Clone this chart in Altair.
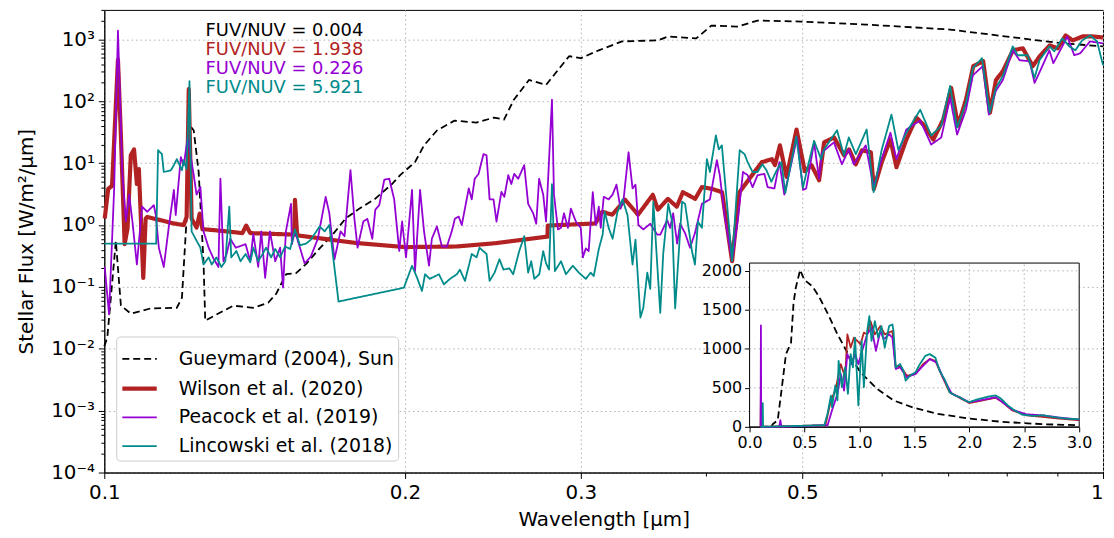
import altair as alt
import pandas as pd

SERIES = ["Gueymard (2004), Sun", "Wilson et al. (2020)", "Peacock et al. (2019)", "Lincowski et al. (2018)"]
COLORS = ["#000000", "#b22222", "#9400d3", "#008b8b"]
DASHES = [[7, 4], [1, 0], [1, 0], [1, 0]]
WIDTHS = [1.8, 4.2, 1.8, 1.8]

# ---------------- main panel data (wavelength in um, flux in W/m2/um) ----------------
gue_lam = [0.1, 0.1007, 0.1027, 0.1039, 0.1063, 0.1113, 0.1182, 0.1196, 0.1209, 0.1219,
           0.1229, 0.1243, 0.1257, 0.1262, 0.1346, 0.141, 0.1459, 0.1486, 0.1521, 0.1556,
           0.1592, 0.1643, 0.1693, 0.1744, 0.18, 0.1867, 0.1941, 0.1978, 0.2047, 0.209,
           0.2153, 0.2243, 0.2358, 0.2456, 0.2513, 0.2571, 0.2662, 0.2769, 0.292, 0.3,
           0.3127, 0.3299, 0.3585, 0.3667, 0.3915, 0.4053, 0.4304, 0.4509, 0.4985, 0.5791,
           0.7024, 0.8603, 0.9132, 1.0]
gue_flux = [0.011, 0.0153, 0.55, 0.05, 0.037, 0.045, 0.046, 0.067, 1.27, 40,
            33.7, 7.2, 0.26, 0.0286, 0.0497, 0.046, 0.0555, 0.077, 0.161, 0.167,
            0.233, 0.42, 0.70, 1.27, 1.84, 2.65, 4.6, 6.4, 10.4, 19.4,
            33.7, 48.8, 45.3, 54.5, 50.6, 106, 221, 184, 535, 497,
            667, 929, 964, 1117, 1038, 1675, 1614, 2014, 1941, 1738,
            1445, 964, 863, 773]

wil_lam = [0.1001, 0.1009, 0.1018, 0.1025, 0.1032, 0.1039, 0.1048, 0.1055, 0.1063, 0.1071,
           0.1078, 0.1083, 0.1094, 0.11, 0.1104, 0.1174, 0.1201, 0.1209, 0.1215, 0.1223,
           0.1237, 0.1246, 0.1254, 0.1326, 0.1375, 0.1387, 0.14, 0.1549, 0.1552, 0.156,
           0.1793, 0.2, 0.2254, 0.2467, 0.2778, 0.278, 0.3102, 0.3152, 0.3225, 0.3323,
           0.3423, 0.3542, 0.3583, 0.3667, 0.3743, 0.3796, 0.3905, 0.3966, 0.406, 0.4155,
           0.4252, 0.4325, 0.4452, 0.4555, 0.4661, 0.4694, 0.4748, 0.4821, 0.4933, 0.5028,
           0.5106, 0.5197, 0.5257, 0.5379, 0.5504, 0.5568, 0.5656, 0.5735, 0.5855, 0.5895,
           0.6004, 0.6125, 0.6211, 0.6355, 0.6503, 0.6608, 0.6761, 0.6918, 0.7047, 0.7158,
           0.7291, 0.7415, 0.7586, 0.7706, 0.7813, 0.7939, 0.8124, 0.8312, 0.8505, 0.8642,
           0.8843, 0.9006, 0.9175, 0.9324, 0.9539, 0.976, 1.0]
wil_flux = [1.27, 3.84, 4.3, 45, 470, 28, 0.49, 0.88, 13.4, 16.7,
            4.6, 8.0, 0.14, 1.27, 1.35, 1.06, 1.0, 1.35, 158, 1.27,
            0.91, 1.53, 0.86, 0.79, 0.74, 0.98, 0.74, 0.70, 2.56, 0.68,
            0.51, 0.44, 0.45, 0.51, 0.65, 0.98, 1.06, 1.64, 1.47, 2.56,
            1.47, 3.08, 1.77, 2.65, 1.98, 3.4, 2.65, 4.1, 3.84, 3.4,
            0.26, 3.4, 6.4, 10.4, 11.6, 9.3, 19.4, 6.0, 35, 7.4,
            9.3, 5.3, 21.7, 26, 13.4, 16.7, 9.6, 16.1, 15, 3.8,
            10.4, 24.2, 8.6, 24.2, 54.5, 42, 24, 50.6, 164, 40.5,
            106, 370, 445, 65.5, 221, 308, 667, 718, 370, 535,
            802, 718, 1159, 964, 1117, 1117, 1076]

pea_lam = [0.1001, 0.1011, 0.1023, 0.1032, 0.1042, 0.1051, 0.1059, 0.1067, 0.1078, 0.1091,
           0.1104, 0.1121, 0.1126, 0.1134, 0.1147, 0.116, 0.1174, 0.1179, 0.1193, 0.1201,
           0.1212, 0.1229, 0.1237, 0.1248, 0.1257, 0.1272, 0.1286, 0.1301, 0.1307, 0.1316,
           0.1325, 0.1337, 0.1354, 0.1385, 0.14, 0.141, 0.1426, 0.1436, 0.1449, 0.1465,
           0.1483, 0.15, 0.151, 0.152, 0.1538, 0.1541, 0.1552, 0.157, 0.1587, 0.161,
           0.1636, 0.1666, 0.168, 0.17, 0.1724, 0.174, 0.1764, 0.178, 0.1793, 0.1817,
           0.1834, 0.1855, 0.1868, 0.1885, 0.1907, 0.1929, 0.1951, 0.1974, 0.1987, 0.2005,
           0.2033, 0.2047, 0.2071, 0.209, 0.2114, 0.2128, 0.2153, 0.2178, 0.2203, 0.2228,
           0.2244, 0.2264, 0.228, 0.2317, 0.2333, 0.2349, 0.237, 0.2397, 0.2414, 0.2431,
           0.2453, 0.247, 0.2498, 0.2515, 0.2538, 0.2556, 0.2573, 0.2597, 0.2633, 0.2657,
           0.2688, 0.2707, 0.2725, 0.2751, 0.2769, 0.2807, 0.282, 0.2846, 0.2866, 0.2886,
           0.2912, 0.2932, 0.2966, 0.3, 0.3014, 0.3035, 0.3055, 0.3084, 0.3105, 0.3127,
           0.3141, 0.3163, 0.3199, 0.3228, 0.3257, 0.3288, 0.3311, 0.3349, 0.338, 0.3403,
           0.3426, 0.3465, 0.3521, 0.3578, 0.3603, 0.3661, 0.3686, 0.3712, 0.3746, 0.3772,
           0.3815, 0.3859, 0.3903, 0.3966, 0.404, 0.4105, 0.4133, 0.4181, 0.4252, 0.431,
           0.436, 0.4407, 0.4458, 0.4509, 0.4581, 0.4615, 0.4688, 0.4742, 0.4796, 0.494,
           0.5007, 0.5044, 0.5137, 0.5196, 0.5232, 0.5377, 0.5477, 0.5565, 0.5629, 0.5786,
           0.5893, 0.6002, 0.6126, 0.6211, 0.6354, 0.6561, 0.6729, 0.6887, 0.7029, 0.7143,
           0.7291, 0.7409, 0.7581, 0.7686, 0.781, 0.7937, 0.8121, 0.8252, 0.8443, 0.854,
           0.8658, 0.8837, 0.8918, 0.9104, 0.9209, 0.9358, 0.9487, 0.9705, 1.0]
pea_flux = [0.21, 0.036, 3.9, 1390, 8.0, 1.14, 3.1, 1.14, 0.23, 1.98,
            1.64, 2.1, 1.45, 0.43, 0.21, 0.9, 3.7, 1.45, 12.5, 9.3,
            26, 6.4, 3.1, 4.1, 0.79, 0.43, 0.29, 0.21, 5.6, 0.26,
            0.33, 0.6, 0.43, 0.49, 0.26, 0.72, 0.21, 0.79, 0.14, 0.79,
            0.26, 0.43, 0.097, 0.79, 2.2, 0.49, 0.79, 0.43, 0.24, 0.31,
            0.6, 2.86, 1.55, 0.28, 0.79, 0.66, 7.7, 1.26, 0.43, 1.14,
            1.26, 0.6, 1.77, 2.1, 5.4, 5.6, 2.6, 0.38, 1.14, 0.3,
            3.7, 0.18, 3.7, 0.79, 0.22, 0.6, 0.95, 0.45, 0.45, 0.79,
            1.26, 1.37, 1.0, 3.9, 2.6, 5.6, 6.7, 14, 13.4, 2.6,
            2.6, 1.14, 3.44, 2.86, 6.4, 4.6, 6.7, 5.6, 9.3, 2.2,
            1.55, 1.05, 5.6, 3.1, 1.14, 106, 3.1, 0.85, 0.9, 1.55,
            0.9, 1.84, 1.14, 0.9, 0.3, 0.42, 0.38, 3.4, 1.0, 1.98,
            0.9, 2.86, 2.6, 3.1, 4.5, 1.84, 2.6, 15, 3.9, 4.5,
            1.0, 0.85, 1.05, 0.7, 0.7, 1.2, 0.9, 1.55, 0.5, 1.05,
            0.74, 0.43, 0.74, 2.2, 2.6, 11.2, 6.4, 1.37, 0.26, 1.26,
            7.2, 6.4, 4.1, 6.4, 6.7, 4.1, 3.9, 10.4, 3.1, 26,
            3.7, 3.9, 21.7, 5.6, 15, 21.7, 9.6, 16.7, 9.6, 19.4,
            4.1, 11.6, 31, 11.6, 35, 49, 20, 26, 114, 29,
            73, 265, 370, 61, 147, 220, 667, 460, 445, 198,
            319, 667, 413, 773, 1117, 555, 597, 929, 863]

lin_lam = [0.1, 0.1127, 0.1132, 0.1142, 0.1147, 0.1166, 0.1174, 0.1182, 0.1196, 0.1201,
           0.1209, 0.1217, 0.1223, 0.1234, 0.1248, 0.1257, 0.1272, 0.1281, 0.1295, 0.131,
           0.1322, 0.1334, 0.134, 0.1356, 0.1369, 0.1385, 0.14, 0.141, 0.1426, 0.1442,
           0.1452, 0.1469, 0.1483, 0.15, 0.1517, 0.1535, 0.1552, 0.157, 0.1592, 0.161,
           0.1643, 0.1662, 0.168, 0.1716, 0.1995, 0.2033, 0.2057, 0.208, 0.2095, 0.2118,
           0.2163, 0.2188, 0.2219, 0.2254, 0.227, 0.2297, 0.2333, 0.2359, 0.2375, 0.2414,
           0.2431, 0.2459, 0.2487, 0.251, 0.2544, 0.2567, 0.2603, 0.2633, 0.2657, 0.2676,
           0.2695, 0.2726, 0.2751, 0.2769, 0.2788, 0.2807, 0.2826, 0.2866, 0.2899, 0.2945,
           0.2986, 0.3035, 0.3069, 0.3091, 0.3127, 0.3155, 0.317, 0.3199, 0.3228, 0.3265,
           0.3303, 0.3341, 0.338, 0.3403, 0.3442, 0.3465, 0.3497, 0.3521, 0.3546, 0.3603,
           0.3628, 0.367, 0.3703, 0.3729, 0.3789, 0.3815, 0.3876, 0.3903, 0.393, 0.3966,
           0.4012, 0.404, 0.4096, 0.4124, 0.4153, 0.4181, 0.4252, 0.4327, 0.4376, 0.4407,
           0.4458, 0.4509, 0.456, 0.4602, 0.4655, 0.4709, 0.4764, 0.4807, 0.493, 0.5007,
           0.5067, 0.5137, 0.522, 0.5256, 0.5416, 0.5502, 0.5565, 0.5656, 0.5799, 0.5893,
           0.6002, 0.614, 0.6239, 0.6354, 0.6561, 0.6729, 0.6887, 0.7029, 0.7143, 0.7291,
           0.7409, 0.7565, 0.7702, 0.781, 0.7937, 0.8121, 0.8214, 0.8405, 0.854, 0.8638,
           0.8837, 0.8938, 0.9104, 0.9251, 0.9381, 0.953, 0.9707, 0.9863, 1.0]
lin_flux = [0.5, 0.5, 16.2, 14.0, 7.2, 7.7, 9.3, 11.6, 7.7, 11.2,
            8.0, 212, 0.79, 0.6, 0.43, 0.23, 0.3, 0.23, 0.3, 0.21,
            0.26, 1.98, 0.3, 0.38, 0.26, 0.34, 0.25, 0.43, 0.26, 0.35,
            0.43, 0.3, 0.41, 0.3, 0.45, 0.41, 0.85, 0.47, 0.5, 0.58,
            0.95, 0.79, 1.0, 0.058, 0.097, 0.22, 0.14, 0.086, 0.16, 0.135,
            0.16, 0.11, 0.135, 0.16, 0.19, 0.125, 0.34, 0.3, 0.43, 0.34,
            0.125, 0.17, 0.28, 0.19, 0.2, 0.16, 0.38, 0.66, 0.17, 0.26,
            0.135, 0.16, 0.38, 0.24, 0.19, 4.6, 0.18, 0.26, 0.16, 0.22,
            0.17, 0.135, 0.17, 0.15, 0.41, 0.7, 1.64, 0.9, 0.6, 1.64,
            2.6, 1.45, 0.23, 0.58, 0.032, 0.046, 0.17, 0.093, 2.38, 0.038,
            0.35, 2.2, 1.14, 0.045, 2.38, 2.2, 0.38, 0.23, 1.14, 0.9,
            11.6, 7.2, 28, 16.7, 19.4, 5.6, 0.26, 16.2, 14, 10.4,
            7.2, 7.2, 9.6, 7.7, 5.0, 7.5, 10.4, 3.3, 27, 4.0,
            9.3, 23, 11.6, 16.7, 34, 13.4, 26, 14, 35, 3.4,
            16.2, 61, 16.2, 31, 73, 28, 40.5, 177, 37.7, 95,
            344, 497, 65.5, 164, 256, 773, 555, 555, 238, 460,
            773, 643, 1038, 773, 667, 964, 1159, 929, 384]

# ---------------- inset data (linear axes, 0-3 um) ----------------
ins_gue_lam = [0.1, 0.2, 0.21, 0.256, 0.292, 0.331, 0.377, 0.40, 0.42, 0.46, 0.497, 0.572, 0.63,
               0.708, 0.80, 0.89, 1.01, 1.16, 1.31, 1.49, 1.70, 2.0, 2.3, 2.67, 3.0]
ins_gue_flux = [0, 5, 34, 85, 487, 932, 1080, 1589, 1780, 2013, 1886, 1800, 1674,
                1462, 1186, 953, 699, 487, 339, 246, 170, 106, 64, 34, 21]

ins_wil_lam = [0.1, 0.103, 0.106, 0.69, 0.74, 0.78, 0.83, 0.87, 0.89, 0.92, 0.95, 0.98, 1.01,
               1.04, 1.07, 1.10, 1.14, 1.19, 1.23, 1.30, 1.33, 1.37, 1.43, 1.51, 1.58, 1.64,
               1.69, 1.75, 1.82, 1.91, 2.0, 2.12, 2.24, 2.30, 2.39, 2.52, 2.67, 2.82, 3.0]
ins_wil_flux = [1, 470, 1, 21, 340, 466, 805, 636, 1186, 1017, 1144, 1102, 1059,
                1208, 1186, 1356, 1186, 1292, 1186, 1229, 763, 784, 657, 678, 805, 869,
                847, 657, 445, 373, 305, 339, 373, 318, 212, 148, 127, 106, 85]

ins_pea_lam = [0.1, 0.103, 0.106, 0.27, 0.28, 0.29, 0.71, 0.75, 0.80, 0.83, 0.86, 0.89, 0.93,
               0.96, 0.99, 1.02, 1.07, 1.11, 1.15, 1.19, 1.22, 1.27, 1.30, 1.33, 1.37, 1.43,
               1.51, 1.58, 1.64, 1.70, 1.76, 1.84, 1.91, 2.0, 2.12, 2.24, 2.30, 2.39, 2.52,
               2.67, 2.82, 3.0]
ins_pea_flux = [0, 1300, 1, 1, 85, 1, 21, 212, 424, 678, 466, 932, 805,
                932, 805, 953, 1186, 1271, 975, 1229, 1123, 1186, 1144, 742, 763, 636,
                678, 784, 869, 826, 636, 424, 381, 314, 347, 381, 318, 220, 161,
                148, 119, 93]

ins_lin_lam = [0.1, 0.118, 0.12, 0.123, 0.68, 0.71, 0.74, 0.75, 0.78, 0.80, 0.81, 0.84, 0.87,
               0.895, 0.92, 0.94, 0.96, 0.99, 1.02, 1.04, 1.07, 1.09, 1.11, 1.14, 1.17, 1.20,
               1.23, 1.27, 1.30, 1.31, 1.33, 1.37, 1.40, 1.42, 1.46, 1.51, 1.55, 1.60, 1.64,
               1.69, 1.73, 1.78, 1.82, 1.87, 1.91, 1.96, 2.0, 2.09, 2.18, 2.24, 2.29, 2.35,
               2.41, 2.48, 2.58, 2.67, 2.76, 2.88, 3.0]
ins_lin_flux = [1, 1, 305, 1, 21, 170, 400, 254, 530, 340, 847, 508, 763,
                424, 932, 763, 1144, 275, 1102, 508, 1229, 1419, 1102, 1356, 1144, 1292,
                1017, 1292, 1313, 1229, 763, 805, 720, 593, 657, 699, 805, 911, 932,
                890, 720, 593, 445, 403, 381, 339, 318, 360, 390, 403, 360, 275,
                212, 157, 140, 148, 127, 106, 97]

# annotation texts
ANN_TEXT = ["FUV/NUV = 0.004", "FUV/NUV = 1.938", "FUV/NUV = 0.226", "FUV/NUV = 5.921"]
ANN_LAM = [0.1263, 0.1263, 0.1263, 0.1263]
ANN_FLUX = [1378, 674, 335, 164]

# tick values
X_TICKS = [0.1, 0.2, 0.3, 0.4, 0.5, 0.6, 0.7, 0.8, 0.9, 1.0]
Y_TICKS = [v for v in (float(f"{m}e{k}") for k in range(-4, 4) for m in range(1, 10)) if v <= 3000]
INSET_XTICKS = [0.0, 0.5, 1.0, 1.5, 2.0, 2.5, 3.0]
INSET_YTICKS = [0, 500, 1000, 1500, 2000]
INSET_XGRID = [0.5, 1.0, 1.5, 2.0, 2.5]
INSET_YGRID = [500, 1000, 1500, 2000]
INSET_XLIM = [0.0, 3.0]
INSET_YLIM = [0.0, 2100.0]

FONT = "DejaVu Sans"

# ---------------- scales & axes ----------------
y_major = "abs(log(datum.value)/LN10 - round(log(datum.value)/LN10)) < 0.001"
x_major = "indexof([0.1, 0.2, 0.3, 0.5, 1], datum.value) >= 0"

xs_main = alt.Scale(type="log", domain=[0.1, 1.0], nice=False)
ys_main = alt.Scale(type="log", domain=[1e-4, 3000], nice=False)

xaxis_main = alt.Axis(
    values=X_TICKS, title="Wavelength [μm]",
    labelExpr="datum.value == 1 ? '1' : (" + x_major + " ? format(datum.value, '.1f') : '')",
    labelAlign={"condition": {"test": "datum.value == 1", "value": "right"}, "value": "center"},
    tickSize={"condition": {"test": x_major, "value": 6}, "value": 3.5},
    gridOpacity={"condition": {"test": x_major, "value": 1}, "value": 0},
    grid=True, labelFlush=False, labelOverlap=False, labelPadding=4, titlePadding=7,
)
yaxis_main = alt.Axis(
    values=Y_TICKS, title="Stellar Flux [W/m²/μm]",
    labelExpr="(" + y_major + ") ? ['10⁻⁴','10⁻³','10⁻²','10⁻¹','10⁰','10¹','10²','10³'][round(log(datum.value)/LN10)+4] : ''",
    tickSize={"condition": {"test": y_major, "value": 6}, "value": 3.5},
    gridOpacity={"condition": {"test": y_major, "value": 1}, "value": 0},
    grid=True, labelFlush=False, labelOverlap=False, labelPadding=4, titlePadding=14,
)

xs_in = alt.Scale(domain=INSET_XLIM, range=[650, 982], nice=False, zero=False)
ys_in = alt.Scale(domain=INSET_YLIM, range=[420, 255], nice=False, zero=False)
xaxis_in = alt.Axis(orient="bottom", offset=-46, values=INSET_XTICKS, format=".1f", title=None,
                    grid=False, labelFontSize=16, tickSize=5, labelFlush=False, labelOverlap=False,
                    labelPadding=3)
yaxis_in = alt.Axis(orient="left", offset=-650, values=INSET_YTICKS, format="d", title=None,
                    grid=False, labelFontSize=16, tickSize=5, labelFlush=False, labelOverlap=False,
                    labelPadding=3)

color = alt.Color("series:N", scale=alt.Scale(domain=SERIES, range=COLORS), title=None)
dash = alt.StrokeDash("series:N", scale=alt.Scale(domain=SERIES, range=DASHES), title=None)
width = alt.StrokeWidth("series:N", scale=alt.Scale(type="ordinal", domain=SERIES, range=WIDTHS),
                        title=None)

# ---------------- main layers ----------------
main_sets = [(SERIES[0], gue_lam, gue_flux), (SERIES[1], wil_lam, wil_flux),
             (SERIES[2], pea_lam, pea_flux), (SERIES[3], lin_lam, lin_flux)]
main_layers = []
for name, lam, flux in main_sets:
    df = pd.DataFrame({"series": name, "lam": lam, "flux": flux})
    main_layers.append(
        alt.Chart(df).mark_line(strokeJoin="round").encode(
            x=alt.X("lam:Q", scale=xs_main, axis=xaxis_main),
            y=alt.Y("flux:Q", scale=ys_main, axis=yaxis_main),
            color=color, strokeDash=dash, strokeWidth=width,
        )
    )

text_layers = []
for i in range(4):
    df = pd.DataFrame({"lam": [ANN_LAM[i]], "flux": [ANN_FLUX[i]], "label": [ANN_TEXT[i]]})
    text_layers.append(
        alt.Chart(df).mark_text(align="left", baseline="middle", fontSize=18, font=FONT,
                                color=COLORS[i]).encode(
            x=alt.X("lam:Q", scale=xs_main, axis=xaxis_main),
            y=alt.Y("flux:Q", scale=ys_main, axis=yaxis_main),
            text="label:N",
        )
    )

main = alt.layer(*main_layers, *text_layers)

# ---------------- inset layers ----------------
frame_df = pd.DataFrame({"x0": [INSET_XLIM[0]], "x1": [INSET_XLIM[1]],
                         "y0": [INSET_YLIM[0]], "y1": [INSET_YLIM[1]]})
frame = alt.Chart(frame_df).mark_rect(fill="white", stroke="black", strokeWidth=1).encode(
    x=alt.X("x0:Q", scale=xs_in, axis=xaxis_in), x2="x1:Q",
    y=alt.Y("y0:Q", scale=ys_in, axis=yaxis_in), y2="y1:Q",
)
vgrid = alt.Chart(pd.DataFrame({"gx": INSET_XGRID})).mark_rule(
    color="#b0b0b0", strokeDash=[1.5, 3], strokeWidth=1).encode(
    x=alt.X("gx:Q", scale=xs_in, axis=xaxis_in),
    y=alt.YDatum(INSET_YLIM[0], scale=ys_in, axis=yaxis_in), y2=alt.Y2Datum(INSET_YLIM[1]),
)
hgrid = alt.Chart(pd.DataFrame({"gy": INSET_YGRID})).mark_rule(
    color="#b0b0b0", strokeDash=[1.5, 3], strokeWidth=1).encode(
    y=alt.Y("gy:Q", scale=ys_in, axis=yaxis_in),
    x=alt.XDatum(INSET_XLIM[0], scale=xs_in, axis=xaxis_in), x2=alt.X2Datum(INSET_XLIM[1]),
)
inset_sets = [(SERIES[0], ins_gue_lam, ins_gue_flux), (SERIES[1], ins_wil_lam, ins_wil_flux),
              (SERIES[2], ins_pea_lam, ins_pea_flux), (SERIES[3], ins_lin_lam, ins_lin_flux)]
inset_lines = []
for name, lam, flux in inset_sets:
    df = pd.DataFrame({"series": name, "lam": lam, "flux": flux})
    inset_lines.append(
        alt.Chart(df).mark_line(strokeJoin="round", strokeWidth=1.8).encode(
            x=alt.X("lam:Q", scale=xs_in, axis=xaxis_in),
            y=alt.Y("flux:Q", scale=ys_in, axis=yaxis_in),
            color=color, strokeDash=dash,
        )
    )
inset = alt.layer(frame, vgrid, hgrid, *inset_lines)

chart = (
    alt.layer(main, inset)
    .resolve_scale(x="independent", y="independent")
    .properties(width=1006, height=466,
                autosize=alt.AutoSizeParams(type="none"),
                padding={"left": 97, "top": 0, "right": 3, "bottom": 58})
    .configure(font=FONT)
    .configure_view(stroke="black", strokeWidth=1)
    .configure_axis(labelFont=FONT, titleFont=FONT, labelFontSize=20, titleFontSize=20,
                    titleFontWeight="normal", labelColor="black", titleColor="black",
                    domainColor="black", tickColor="black", gridColor="#b0b0b0",
                    gridDash=[1.5, 3], gridWidth=1)
    .configure_legend(orient="none", legendX=12, legendY=329, fillColor="white",
                      strokeColor="#cccccc", cornerRadius=4, padding=4,
                      labelFont=FONT, labelFontSize=19, labelColor="black",
                      symbolType="stroke", symbolSize=1200, rowPadding=0, labelOffset=20,
                      labelLimit=400)
)

chart.save("out.html", embed_options={"renderer": "svg", "actions": False})
